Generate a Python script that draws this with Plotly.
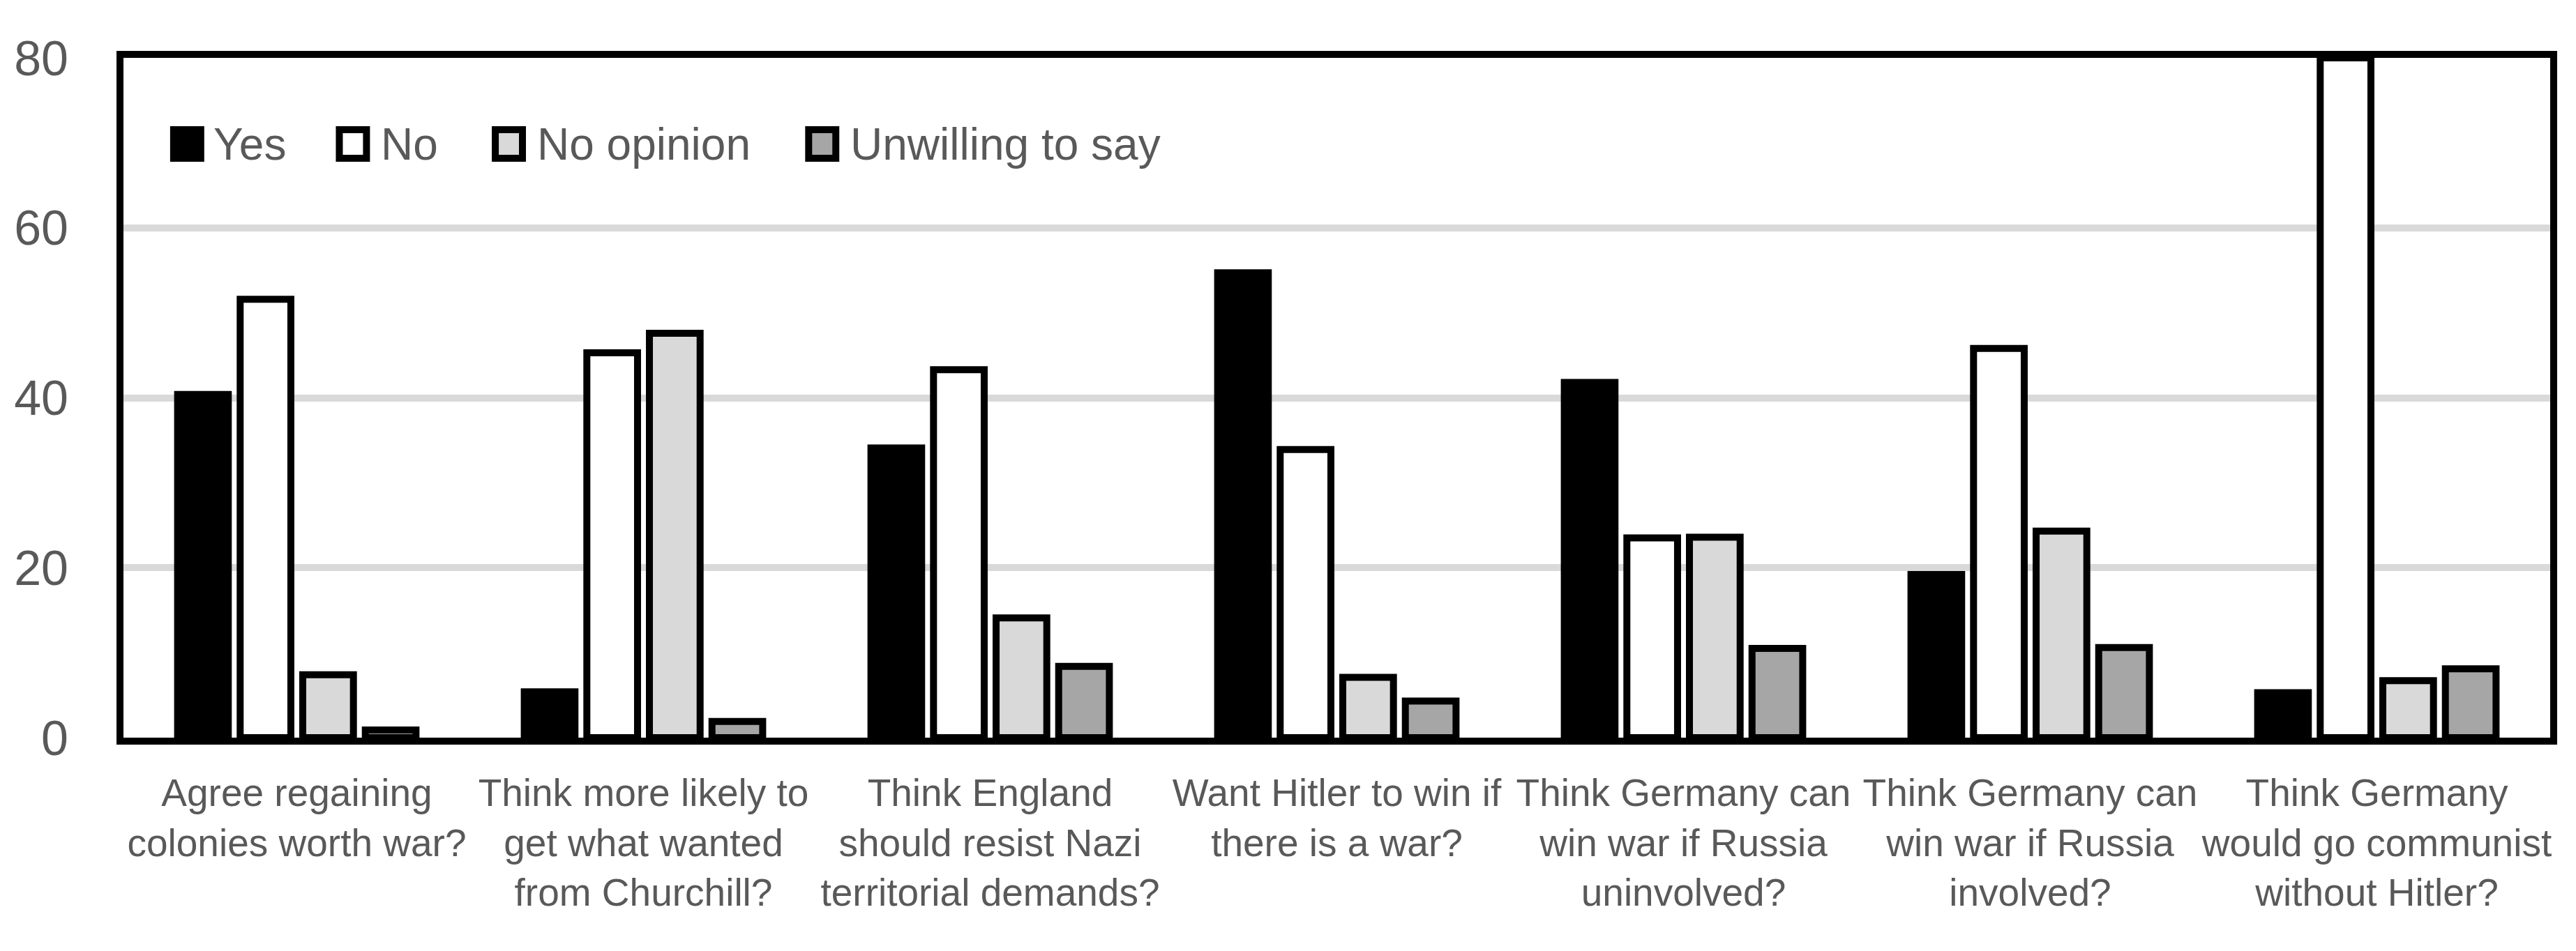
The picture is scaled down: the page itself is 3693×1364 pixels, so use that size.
import plotly.graph_objects as go

# ---------------- data ----------------
categories = [
    "Agree regaining<br>colonies worth war?",
    "Think more likely to<br>get what wanted<br>from Churchill?",
    "Think England<br>should resist Nazi<br>territorial demands?",
    "Want Hitler to win if<br>there is a war?",
    "Think Germany can<br>win war if Russia<br>uninvolved?",
    "Think Germany can<br>win war if Russia<br>involved?",
    "Think Germany<br>would go communist<br>without Hitler?",
]
series_names = ["Yes", "No", "No opinion", "Unwilling to say"]
yes = [40.4, 5.4, 34.1, 54.7, 41.8, 19.2, 5.3]
no = [51.6, 45.3, 43.3, 33.9, 23.5, 45.8, 80.0]
no_opinion = [7.4, 47.6, 14.1, 7.1, 23.6, 24.3, 6.7]
unwilling = [0.9, 1.9, 8.4, 4.3, 10.5, 10.6, 8.1]
y_ticks = [0, 20, 40, 60, 80]

# ---------------- style ----------------
fills = ["#000000", "#ffffff", "#d9d9d9", "#a6a6a6"]
FONT = "Liberation Sans, Arial, sans-serif"
TXT = "#595959"
W, H = 3693, 1364
OFF = 8  # default page body margin
L, R, T, B = 171, 3656, 83, 1058   # plot area in page pixels
PW, PH = R - L, B - T

fig = go.Figure()
for name, vals, col in zip(series_names, [yes, no, no_opinion, unwilling], fills):
    fig.add_trace(go.Bar(
        x=categories, y=vals, name=name,
        marker=dict(color=col, line=dict(color="#000000", width=10)),
        showlegend=False,
    ))

# legend drawn as large swatches + text (plotly legend symbols cannot be scaled)
sq_left_px = [238, 476, 700, 1150]
txt_left_px = [299, 540, 764, 1214]
leg_cy_px = 206.5
shapes = []
annotations = []
for name, col, sx, tx in zip(series_names, fills, sq_left_px, txt_left_px):
    x0 = (sx + 5 - L) / PW
    x1 = (sx + 44 - L) / PW
    y0 = (B - (leg_cy_px + 20.5)) / PH
    y1 = (B - (leg_cy_px - 20.5)) / PH
    shapes.append(dict(type="rect", xref="paper", yref="paper", x0=x0, x1=x1, y0=y0, y1=y1,
                       fillcolor=col, line=dict(color="#000000", width=10), layer="above"))
    annotations.append(dict(xref="paper", yref="paper", x=(tx - L) / PW, y=(B - leg_cy_px) / PH,
                            xanchor="left", yanchor="middle", showarrow=False, text=name,
                            font=dict(family=FONT, size=64, color=TXT), borderpad=0))

fig.update_layout(
    width=W - 2 * OFF, height=H - 2 * OFF,
    margin=dict(l=L - OFF, r=W - R - OFF, t=T - OFF, b=H - B - OFF, pad=0),
    paper_bgcolor="white", plot_bgcolor="white",
    barmode="group", bargap=0.278, bargroupgap=0.19,
    font=dict(family=FONT, color=TXT),
    shapes=shapes, annotations=annotations,
    showlegend=False,
)
fig.update_xaxes(
    type="category", showline=True, mirror=True, linecolor="#000000", linewidth=10,
    showgrid=False, ticks="", tickfont=dict(family=FONT, size=55, color=TXT),
    ticklabelstandoff=22, tickangle=0,
)
fig.update_yaxes(
    range=[0, 80], tickvals=y_ticks, showline=True, mirror=True, linecolor="#000000", linewidth=10,
    showgrid=True, gridcolor="#d9d9d9", gridwidth=10, zeroline=False, ticks="",
    tickfont=dict(family=FONT, size=70, color=TXT), ticklabelstandoff=55,
)

fig.write_html("out.html")
